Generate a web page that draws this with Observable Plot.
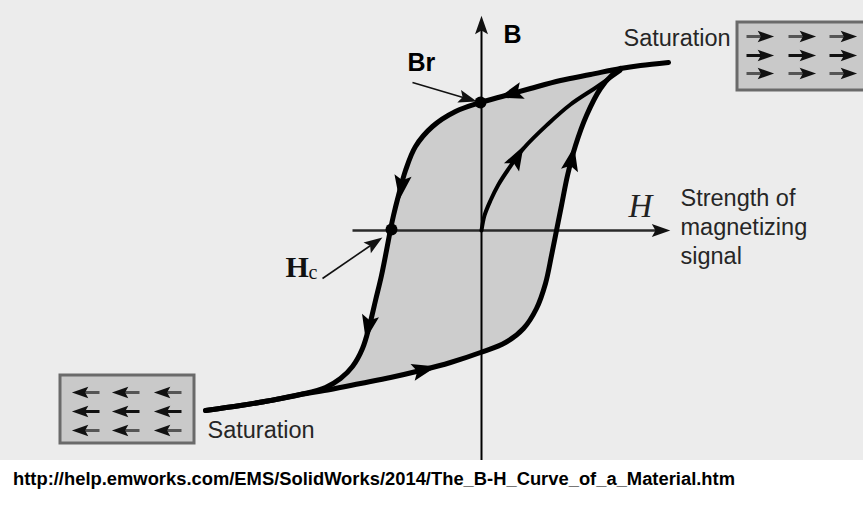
<!DOCTYPE html>
<html><head><meta charset="utf-8">
<script src="https://cdn.jsdelivr.net/npm/d3@7"></script>
<script src="https://cdn.jsdelivr.net/npm/@observablehq/plot@0.6"></script>
<style>
body{margin:0;background:#fff;width:863px;height:515px;overflow:hidden}
#chart svg{display:block}
#cap{display:block}
</style></head><body>
<div id="chart"></div>
<svg id="cap" width="863" height="55"></svg>
<script>
// Descending branch (from +saturation through Br and Hc to -saturation)
const descH = [1.87,1.59,1.39,1.09,0.79,0.49,0.24,-0.01,-0.26,-0.49,-0.66,-0.76,-0.83,-0.88,-0.91,-0.95,-1.00,-1.06,-1.12,-1.19,-1.29,-1.41,-1.56,-1.81,-2.11,-2.41,-2.76];
const descB = [1.68,1.65,1.62,1.56,1.50,1.42,1.35,1.28,1.19,1.04,0.84,0.60,0.35,0.15,0.01,-0.20,-0.45,-0.70,-0.95,-1.18,-1.36,-1.48,-1.57,-1.64,-1.70,-1.75,-1.80];
// Ascending branch (from -saturation to +saturation)
const ascH = [-2.76,-2.41,-2.11,-1.81,-1.51,-1.21,-0.91,-0.61,-0.31,-0.01,0.24,0.42,0.55,0.64,0.70,0.75,0.80,0.86,0.94,1.05,1.19,1.31,1.39];
const ascB = [-1.80,-1.75,-1.70,-1.64,-1.59,-1.53,-1.47,-1.40,-1.32,-1.22,-1.12,-0.98,-0.78,-0.53,-0.25,0.00,0.25,0.55,0.85,1.15,1.42,1.56,1.62];
// Initial magnetization curve
const initH = [0,0.03,0.09,0.17,0.26,0.42,0.66,0.89,1.16,1.39];
const initB = [0,0.15,0.30,0.46,0.60,0.82,1.06,1.26,1.44,1.60];
// Direction arrows on curves: position and direction
const flowH  = [0.31,-0.80,-1.13,-0.59,0.35,0.90];
const flowB  = [1.37,0.45,-0.95,-1.395,0.72,0.70];
const flowDH = [-0.40,-0.03,-0.04,0.40,0.14,0.05];
const flowDB = [-0.12,-0.20,-0.20,0.10,0.25,0.25];
// Special points: Br and Hc
const pointNames = ["Br","Hc"];
const pointH = [-0.01,-0.90];
const pointB = [1.28,0.01];
// Pointer arrows to Br and Hc
const pointerH1 = [-0.69,-1.59], pointerB1 = [1.48,-0.48];
const pointerH2 = [-0.15,-1.08], pointerB2 = [1.32,-0.13];
// Axes
const hAxis = [-1.29,1.78], bAxis = [-2.32,2.04];
// Saturation boxes
const boxH1 = [2.56,-4.21], boxH2 = [3.92,-2.87];
const boxB1 = [2.08,-1.45], boxB2 = [1.40,-2.13];
const boxColsRight = [2.77,3.19,3.60], boxRowsRight = [1.94,1.75,1.57];
const boxColsLeft = [-3.94,-3.54,-3.12], boxRowsLeft = [-1.62,-1.81,-2.00];
const boxArrowHalf = 0.12;
// Labels
const labelText = ["B","Br","Saturation","Saturation","Strength of\nmagnetizing\nsignal"];
const labelH = [0.22,-0.74,1.42,-2.74,1.99];
const labelB = [1.96,1.68,1.92,-2.00,0.05];
const captionText = "http://help.emworks.com/EMS/SolidWorks/2014/The_B-H_Curve_of_a_Material.htm";

const rows = (xs, ys) => xs.map((x,i)=>({H:x,B:ys[i]}));
const desc = rows(descH, descB), asc = rows(ascH, ascB), init = rows(initH, initB);
const loopFill = desc.slice(2,23).concat(asc.slice(4));
const flows = flowH.map((h,i)=>({H:h,B:flowB[i],rot:Math.atan2(flowDH[i],flowDB[i])*180/Math.PI}));
const points = pointNames.map((n,i)=>({name:n,H:pointH[i],B:pointB[i]}));
const pointers = pointerH1.map((h,i)=>({H1:h,B1:pointerB1[i],H2:pointerH2[i],B2:pointerB2[i],rot:Math.atan2(pointerH2[i]-h,pointerB2[i]-pointerB1[i])*180/Math.PI}));
const boxes = boxH1.map((h,i)=>({H1:h,H2:boxH2[i],B1:boxB1[i],B2:boxB2[i]}));
const boxArrows = [];
boxRowsRight.forEach((b,r)=>boxColsRight.forEach(h=>boxArrows.push({H:h,B:b,dir:1,mid:r===1})));
boxRowsLeft.forEach((b,r)=>boxColsLeft.forEach(h=>boxArrows.push({H:h,B:b,dir:-1,mid:r===1})));
const labels = labelText.map((t,i)=>({t,H:labelH[i],B:labelB[i]}));

const head = {draw(ctx,size){const r=Math.sqrt(size/Math.PI);ctx.moveTo(0,-r*1.2);ctx.lineTo(r*0.72,r*0.85);ctx.lineTo(0,r*0.45);ctx.lineTo(-r*0.72,r*0.85);ctx.closePath();}};
const font = "Liberation Sans, Arial, sans-serif";

const plot = Plot.plot({
  width: 863, height: 460, margin: 0,
  x: {domain: [-4.81, 3.82], axis: null},
  y: {domain: [-2.30, 2.30], axis: null},
  style: {background: "#ececec", fontFamily: font},
  marks: [
    Plot.line(loopFill, {x:"H", y:"B", curve:"catmull-rom", fill:"#cdcdcd", stroke:"none"}),
    // axes
    Plot.link([0], {x1:()=>hAxis[0], x2:()=>hAxis[1], y1:0, y2:0, stroke:"#2a2a2a", strokeWidth:2.5}),
    Plot.link([0], {x1:0, x2:0, y1:()=>bAxis[0], y2:()=>bAxis[1], stroke:"#000", strokeWidth:2}),
    Plot.dot([0], {x:()=>hAxis[1], y:0, symbol:head, r:9, rotate:90, fill:"#111", stroke:"none"}),
    Plot.dot([0], {x:0, y:()=>bAxis[1], symbol:head, r:9, rotate:0, fill:"#111", stroke:"none"}),
    // curves
    Plot.line(init, {x:"H", y:"B", curve:"catmull-rom", stroke:"#000", strokeWidth:4}),
    Plot.line(asc, {x:"H", y:"B", curve:"catmull-rom", stroke:"#000", strokeWidth:5}),
    Plot.line(desc, {x:"H", y:"B", curve:"catmull-rom", stroke:"#000", strokeWidth:5}),
    Plot.dot(flows, {x:"H", y:"B", rotate:"rot", symbol:head, r:12, fill:"#000", stroke:"none"}),
    Plot.dot(points, {x:"H", y:"B", r:6, fill:"#000", stroke:"none"}),
    // pointers
    Plot.link(pointers, {x1:"H1", y1:"B1", x2:"H2", y2:"B2", stroke:"#111", strokeWidth:1.6}),
    Plot.dot(pointers, {x:"H2", y:"B2", rotate:"rot", symbol:head, r:9, fill:"#111", stroke:"none"}),
    // boxes
    Plot.rect(boxes, {x1:"H1", x2:"H2", y1:"B1", y2:"B2", fill:"#c9c9c9", stroke:"#6a6a6a", strokeWidth:3}),
    Plot.link(boxArrows, {x1:d=>d.H-d.dir*boxArrowHalf, x2:d=>d.H+d.dir*boxArrowHalf*0.4, y1:"B", y2:"B", stroke:d=>d.mid?"#111":"#555", strokeWidth:3}),
    Plot.dot(boxArrows, {x:d=>d.H+d.dir*boxArrowHalf*0.5, y:"B", rotate:d=>d.dir*90, symbol:head, r:8, fill:"#111", stroke:"none"}),
    // labels
    Plot.text(labels.slice(0,2), {x:"H", y:"B", text:"t", textAnchor:"start", fontSize:25, fontWeight:"bold", fill:"#000"}),
    Plot.text(labels.slice(2,4), {x:"H", y:"B", text:"t", textAnchor:"start", fontSize:23.5, fill:"#262626"}),
    Plot.text(labels.slice(4), {x:"H", y:"B", text:"t", textAnchor:"start", fontSize:23.5, lineHeight:1.24, fill:"#262626"}),
    Plot.text(["H"], {x:()=>1.47, y:()=>0.24, text:d=>d, textAnchor:"start", fontSize:33, fontStyle:"italic", fontFamily:"Liberation Serif, serif", fill:"#222"}),
    Plot.text(["H"], {x:()=>-1.96, y:()=>-0.37, text:d=>d, textAnchor:"start", fontSize:30, fontWeight:"bold", fontFamily:"Liberation Serif, serif", fill:"#111"}),
    Plot.text(["c"], {x:()=>-1.73, y:()=>-0.42, text:d=>d, textAnchor:"start", fontSize:20, fontFamily:"Liberation Serif, serif", fill:"#111"})
  ]
});
document.getElementById("chart").append(plot);

d3.select("#cap").append("text")
  .attr("x", 13).attr("y", 25)
  .attr("font-family", font).attr("font-weight", "bold").attr("font-size", 18)
  .attr("textLength", 722).attr("lengthAdjust", "spacingAndGlyphs")
  .text(captionText);
</script>
</body></html>
